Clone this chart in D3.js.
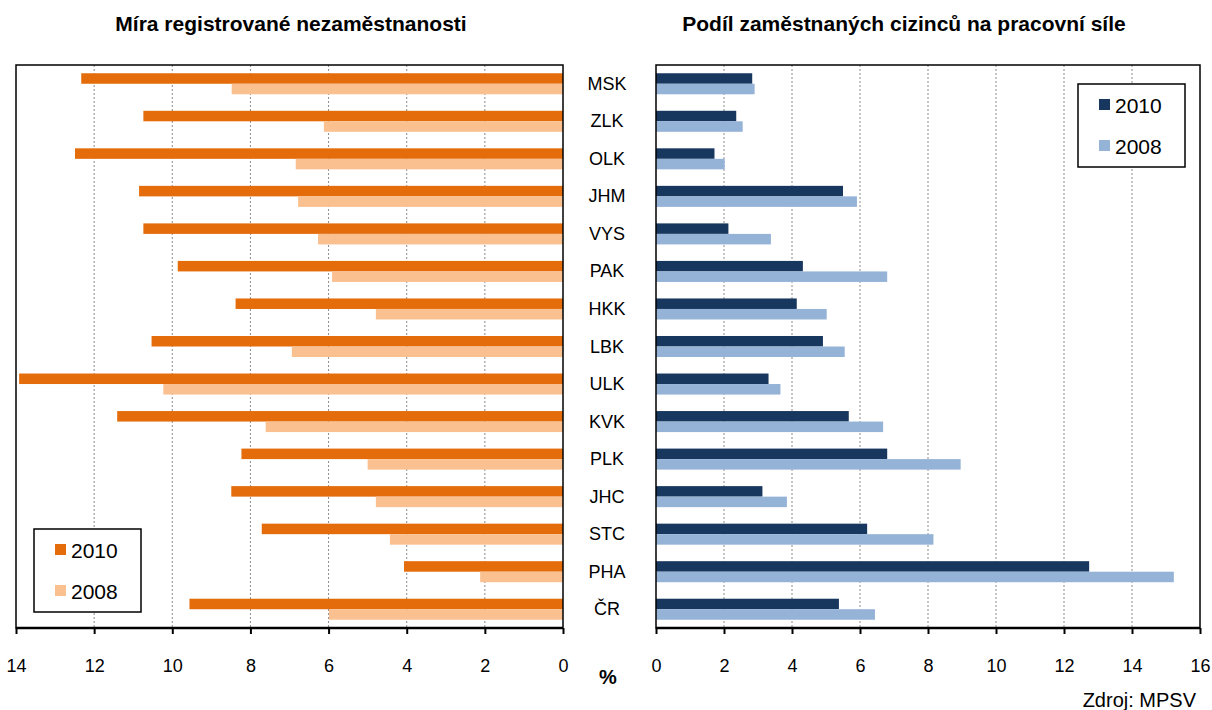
<!DOCTYPE html>
<html>
<head>
<meta charset="utf-8">
<script src="https://cdn.jsdelivr.net/npm/d3@7"></script>
<style>
  body { margin: 0; background: #fff; }
  svg { font-family: "Liberation Sans", Arial, sans-serif; }
</style>
</head>
<body>
<svg id="chart" width="1212" height="710"></svg>
<script>
const regions = ['MSK', 'ZLK', 'OLK', 'JHM', 'VYS', 'PAK', 'HKK', 'LBK', 'ULK', 'KVK', 'PLK', 'JHC', 'STC', 'PHA', 'ČR'];
const years = ['2010', '2008'];

// míra registrované nezaměstnanosti (%)
const unemp2010 = [12.33, 10.74, 12.49, 10.85, 10.74, 9.86, 8.38, 10.53, 13.92, 11.41, 8.23, 8.49, 7.71, 4.07, 9.56];
const unemp2008 = [8.48, 6.12, 6.84, 6.78, 6.27, 5.91, 4.79, 6.94, 10.23, 7.61, 5.0, 4.79, 4.43, 2.12, 5.99];

// podíl zaměstnaných cizinců (%)
const foreign2010 = [2.83, 2.36, 1.72, 5.50, 2.13, 4.32, 4.14, 4.91, 3.31, 5.67, 6.80, 3.13, 6.21, 12.74, 5.38];
const foreign2008 = [2.90, 2.55, 2.02, 5.91, 3.38, 6.80, 5.02, 5.55, 3.66, 6.68, 8.96, 3.85, 8.16, 15.23, 6.44];

const leftTicks = [14, 12, 10, 8, 6, 4, 2, 0];
const rightTicks = [0, 2, 4, 6, 8, 10, 12, 14, 16];

const svg = d3.select('#chart');

const plotTop = 65, plotBottom = 628;

const y = d3.scaleBand()
    .domain(regions)
    .range([plotTop, plotBottom])
    .paddingInner(0.44)
    .paddingOuter(0.22);

const ySub = d3.scaleBand()
    .domain(years)
    .range([0, y.bandwidth()]);

function drawPanel(opts) {
    const x = d3.scaleLinear().domain(opts.domain).range(opts.range);
    const g = svg.append('g');
    const x0 = x(0);
    const left = Math.min(opts.range[0], opts.range[1]);
    const right = Math.max(opts.range[0], opts.range[1]);

    // grid
    g.selectAll('.grid')
        .data(opts.ticks.filter(t => x(t) > left + 1 && x(t) < right - 1))
        .enter()
        .append('line')
        .attr('x1', d => x(d))
        .attr('x2', d => x(d))
        .attr('y1', plotTop)
        .attr('y2', plotBottom)
        .attr('stroke', '#8c8c8c')
        .attr('stroke-width', 1)
        .attr('stroke-dasharray', '2,2');

    // bars
    const series = [opts.v2010, opts.v2008];
    years.forEach((yr, i) => {
        g.selectAll('.bar' + yr)
            .data(regions)
            .enter()
            .append('rect')
            .attr('x', (d, j) => Math.min(x0, x(series[i][j])))
            .attr('width', (d, j) => Math.abs(x(series[i][j]) - x0))
            .attr('y', d => y(d) + ySub(yr))
            .attr('height', ySub.bandwidth())
            .attr('fill', opts.colors[i]);
    });

    // frame
    g.append('rect')
        .attr('x', left)
        .attr('y', plotTop)
        .attr('width', right - left)
        .attr('height', plotBottom - plotTop)
        .attr('fill', 'none')
        .attr('stroke', '#000')
        .attr('stroke-width', 1.5);

    // axis
    const axis = d3.axisBottom(x)
        .tickValues(opts.ticks)
        .tickSize(6)
        .tickPadding(25)
        .tickFormat(d3.format('d'));

    const ax = g.append('g')
        .attr('transform', `translate(0, ${plotBottom})`)
        .call(axis);
    ax.select('.domain').attr('stroke-width', 2.5).attr('d', `M${left},0H${right}`);
    ax.selectAll('.tick line').attr('stroke-width', 2);
    ax.selectAll('.tick text')
        .attr('font-size', 18)
        .attr('fill', '#000');

    // title
    svg.append('text')
        .attr('x', opts.titleX)
        .attr('y', 31)
        .attr('text-anchor', 'middle')
        .attr('font-size', 21)
        .attr('font-weight', 'bold')
        .text(opts.title);

    // legend
    const lg = svg.append('g')
        .attr('transform', `translate(${opts.legend[0]}, ${opts.legend[1]})`);
    lg.append('rect')
        .attr('width', 107)
        .attr('height', 83)
        .attr('fill', '#fff')
        .attr('stroke', '#000')
        .attr('stroke-width', 1.5);
    years.forEach((yr, i) => {
        lg.append('rect')
            .attr('x', 21)
            .attr('y', 15 + i * 41)
            .attr('width', 11)
            .attr('height', 11)
            .attr('fill', opts.colors[i]);
        lg.append('text')
            .attr('x', 37)
            .attr('y', 29 + i * 41)
            .attr('font-size', 21)
            .text(yr);
    });
}

drawPanel({
    domain: [14, 0],
    range: [16, 563],
    ticks: leftTicks,
    v2010: unemp2010,
    v2008: unemp2008,
    colors: ['#e46c0a', '#fac090'],
    title: 'Míra registrované nezaměstnanosti',
    titleX: 291,
    legend: [34, 529]
});

drawPanel({
    domain: [0, 16],
    range: [656, 1200],
    ticks: rightTicks,
    v2010: foreign2010,
    v2008: foreign2008,
    colors: ['#17375e', '#95b3d7'],
    title: 'Podíl zaměstnaných cizinců na pracovní síle',
    titleX: 904,
    legend: [1078, 84]
});

// category labels
svg.selectAll('.cat')
    .data(regions)
    .enter()
    .append('text')
    .attr('x', 607)
    .attr('y', d => y(d) + y.bandwidth() / 2 + 6)
    .attr('text-anchor', 'middle')
    .attr('font-size', 18)
    .text(d => d);

svg.append('text')
    .attr('x', 608)
    .attr('y', 684)
    .attr('text-anchor', 'middle')
    .attr('font-size', 20)
    .attr('font-weight', 'bold')
    .text('%');

svg.append('text')
    .attr('x', 1196)
    .attr('y', 707)
    .attr('text-anchor', 'end')
    .attr('font-size', 20)
    .text('Zdroj: MPSV');
</script>
</body>
</html>
